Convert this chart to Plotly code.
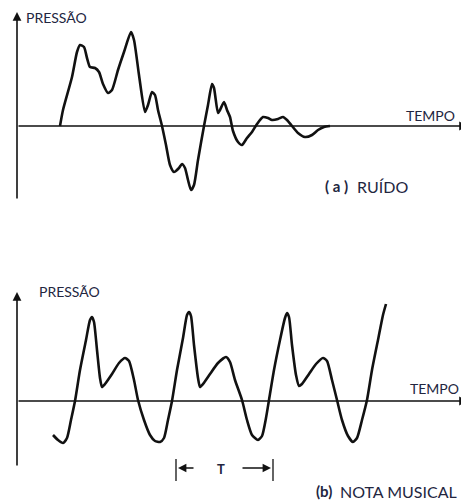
import plotly.graph_objects as go

# ---------------- data (time units, pressure units) ----------------
# (a) RUÍDO  – noise pressure waveform
noise_t = [43, 46, 55, 60, 63, 67, 70, 73, 78, 82, 86, 91, 95, 101, 107, 114, 117, 122,
           128, 131, 135, 138, 141, 145, 149, 153, 157, 162, 165, 168, 171, 174, 177,
           181, 187, 191, 195, 197, 201, 203, 207, 210, 213, 216, 221, 225, 230, 235,
           240, 246, 251, 255, 261, 266, 270, 275, 281, 288, 295, 301, 307, 313]
noise_p = [0, 16, 49, 74, 81, 79, 68, 59, 58, 54, 42, 33, 36, 56, 74, 94, 86, 51,
           14, 21, 34, 31, 16, 0, -19, -39, -46, -42, -38, -42, -54, -64, -59,
           -34, 0, 21, 42, 38, 13, 16, 24, 16, 9, -5, -16, -19, -12, -6,
           2, 9, 8, 6, 7, 9, 6, 0, -7, -11, -9, -4, -1, 0]

# (b) NOTA MUSICAL – periodic musical note waveform
note_t = [36, 41, 46, 50, 54, 58, 63, 69, 73, 75, 77, 80, 83, 85, 88, 95, 102, 108,
          112, 117, 121, 127, 133, 138, 143, 147, 151, 155, 160, 166, 170, 172, 174,
          177, 181, 183, 186, 193, 201, 209, 213, 218, 225, 230, 235, 241, 245, 249,
          252, 257, 263, 268, 270, 272, 275, 279, 282, 285, 292, 299, 306, 310, 315,
          320, 325, 331, 336, 340, 345, 350, 355, 361, 366, 369]
note_p = [-34, -39, -42, -37, -19, 0, 31, 61, 81, 84, 79, 51, 23, 14, 17, 27, 38, 43,
          40, 21, 1, -19, -34, -40, -41, -37, -19, 0, 31, 63, 86, 89, 85,
          56, 23, 14, 17, 27, 38, 44, 39, 21, 1, -19, -34, -39, -35, -17,
          1, 31, 61, 83, 88, 84, 56, 26, 15, 17, 27, 37, 43, 40, 21,
          1, -19, -35, -41, -37, -19, 1, 31, 61, 86, 97]

# period marker (start / end of one period T)
period_start, period_end = 159, 256

ink = "#111111"
txt = "#23263f"
font = "Lato"

fig = go.Figure()
fig.add_trace(go.Scatter(x=noise_t, y=noise_p, mode="lines", xaxis="x", yaxis="y",
                         line=dict(color=ink, width=2.6, shape="spline", smoothing=0.6),
                         hoverinfo="skip", showlegend=False))
fig.add_trace(go.Scatter(x=note_t, y=note_p, mode="lines", xaxis="x2", yaxis="y2",
                         line=dict(color=ink, width=2.6, shape="spline", smoothing=0.6),
                         hoverinfo="skip", showlegend=False))

# the page adds an 8px body margin; figure is sized to fill the rest of the window
W, H = 461, 495
hidden = dict(visible=False, showgrid=False, zeroline=False, fixedrange=True)
fig.update_layout(
    width=W, height=H, margin=dict(l=0, r=0, t=0, b=0),
    paper_bgcolor="white", plot_bgcolor="white",
    xaxis=dict(domain=[0, 1], range=[-9, 452], anchor="y", **hidden),
    yaxis=dict(domain=[253 / H, 1], range=[-124, 118], anchor="x", **hidden),
    xaxis2=dict(domain=[0, 1], range=[-9, 452], anchor="y2", **hidden),
    yaxis2=dict(domain=[0, 253 / H], range=[-102, 151], anchor="x2", **hidden),
)

ann = []


def arrow(xr, yr, x, y, ax, ay, width=1.6, head=2, size=1.0):
    ann.append(dict(xref=xr, yref=yr, axref=xr, ayref=yr, x=x, y=y, ax=ax, ay=ay,
                    text="", showarrow=True, arrowhead=head, arrowsize=size,
                    arrowwidth=width, arrowcolor=ink))


# axes with arrows – top panel
arrow("x", "y", 0, 114, 0, -74, width=1.6, size=1.1)
arrow("x", "y", 451, 0, 0, 0, width=1.6, size=1.1)
# axes with arrows – bottom panel
arrow("x2", "y2", 0, 109, 0, -66, width=1.6, size=1.1)
arrow("x2", "y2", 451, 0, 0, 0, width=1.6, size=1.1)
# period arrows
arrow("x2", "y2", period_start + 2, -67, period_start + 19, -67, width=1.4, size=1.2)
arrow("x2", "y2", period_end - 2, -67, period_end - 32, -67, width=1.4, size=1.2)

shapes = [
    dict(type="line", xref="x2", yref="y2", x0=period_start, x1=period_start, y0=-58, y1=-80,
         line=dict(color=ink, width=1.3)),
    dict(type="line", xref="x2", yref="y2", x0=period_end, x1=period_end, y0=-58, y1=-80,
         line=dict(color=ink, width=1.3)),
]


def label(xr, yr, x, y, text, size=14, xanchor="left", bold=False):
    ann.append(dict(xref=xr, yref=yr, x=x, y=y, text=f"<b>{text}</b>" if bold else text,
                    showarrow=False, xanchor=xanchor, yanchor="middle",
                    font=dict(family=font, size=size, color=txt)))


label("x", "y", 7, 109, "PRESSÃO", 14)
label("x", "y", 440, 11, "TEMPO", 14, xanchor="right")
label("x", "y", 306, -60, "( a )", 15, bold=True)
label("x", "y", 338, -60, "RUÍDO", 16)

label("x2", "y2", 20, 110, "PRESSÃO", 14)
label("x2", "y2", 444, 13, "TEMPO", 14, xanchor="right")
label("x2", "y2", 297, -90, "(b)", 15, bold=True)
label("x2", "y2", 321, -90, "NOTA MUSICAL", 16)
label("x2", "y2", 204, -68, "T", 13, xanchor="center", bold=True)

fig.update_layout(annotations=ann, shapes=shapes)
fig.write_html("out.html")
